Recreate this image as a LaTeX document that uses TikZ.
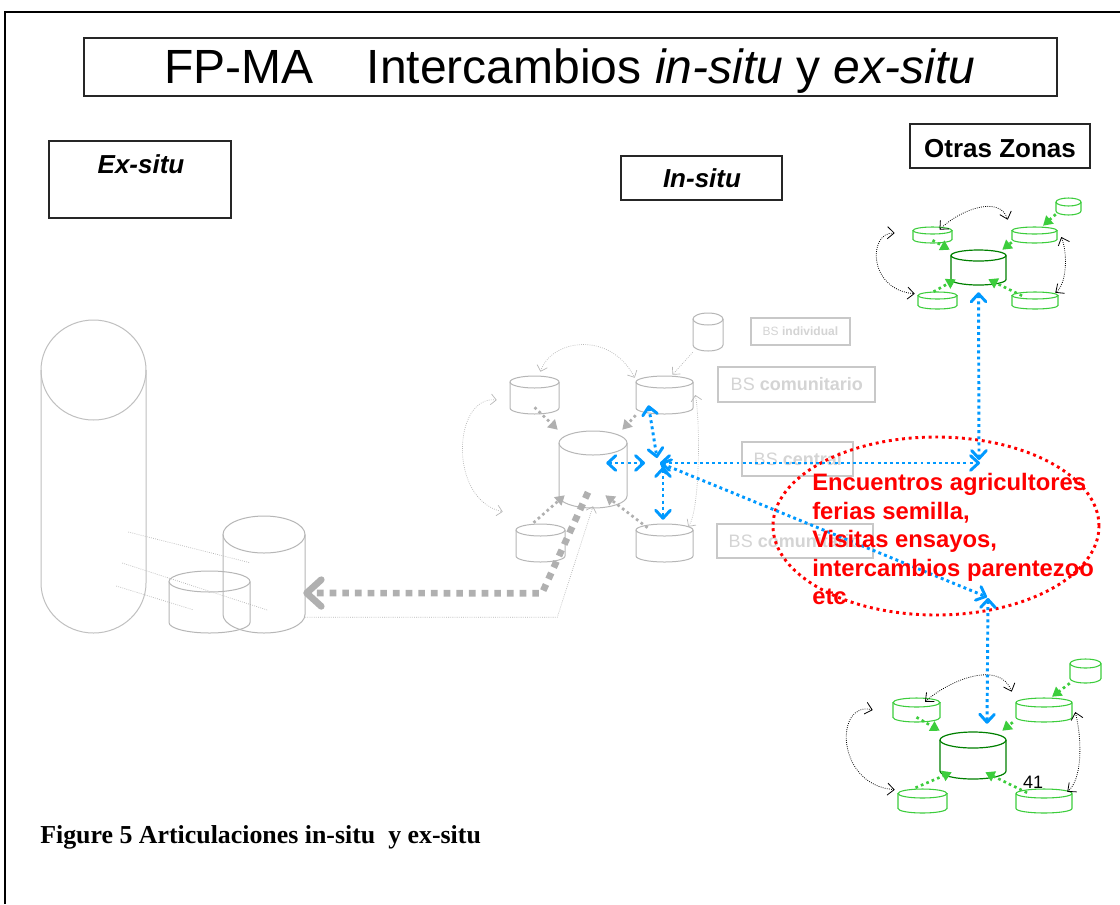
\documentclass[tikz,border=0pt]{standalone}
\usepackage{fontspec}
\setmainfont{Liberation Sans}
\newfontfamily\serifbf{Liberation Serif}
\usetikzlibrary{arrows.meta,calc,fit,shapes.geometric}
\definecolor{cylgray}{RGB}{182,182,182}
\definecolor{tallgray}{RGB}{192,192,192}
\definecolor{boxgray}{RGB}{200,200,200}
\definecolor{txtgray}{RGB}{212,212,212}
\definecolor{arrgray}{RGB}{176,176,176}
\definecolor{myblue}{RGB}{0,153,255}
\definecolor{lgreen}{RGB}{60,205,60}
\definecolor{dgreen}{RGB}{0,128,0}

% cylinder: [style]{name}{x1}{y1}{x2}{y2}{ellipse y-radius}
\newcommand\cyl[7][]{%
  \node[fit={(#3,#4)(#5,#6)},inner sep=0pt] (#2) {};
  \pgfmathsetmacro\cylcx{(#3+#5)/2}%
  \pgfmathsetmacro\cylrx{(#5-#3)/2}%
  \draw[#1] (\cylcx,#4+#7) ellipse[x radius=\cylrx,y radius=#7];
  \draw[#1] (#3,#4+#7) -- (#3,#6-#7) arc[start angle=180,end angle=0,x radius=\cylrx,y radius=#7] -- (#5,#4+#7);
}

\tikzset{
  outerframe/.style={line width=1.5pt,draw=black},
  tbox/.style={draw=black!85,line width=0.8pt,inner sep=0pt},
  bsbox/.style={draw=boxgray,line width=0.8pt,inner sep=0pt},
  bstext/.style={text=txtgray,inner sep=0pt,anchor=west},
  gcyl/.style={draw=cylgray,line width=0.75pt},
  tallcyl/.style={draw=tallgray,line width=0.75pt},
  grcyl/.style={draw=lgreen,line width=0.8pt},
  dgcyl/.style={draw=dgreen,line width=0.9pt},
  bluearr/.style={draw=myblue,line width=2.2pt,dash pattern=on 2.2pt off 2.4pt,
    {Straight Barb[length=6pt,width=11pt,round]}-{Straight Barb[length=6pt,width=11pt,round]}},
  graydot/.style={draw=arrgray,line width=2pt,dash pattern=on 2pt off 2.4pt,
    -{Triangle[length=7pt,width=8pt]}},
  greendot/.style={draw=lgreen,line width=2pt,dash pattern=on 2pt off 2.4pt,
    -{Triangle[length=7pt,width=8pt]}},
  thindot/.style={draw=cylgray,line width=0.5pt,dash pattern=on 0.6pt off 1pt},
  thingray/.style={thindot,{Straight Barb[length=4pt,width=8pt]}-{Straight Barb[length=4pt,width=8pt]}},
  thingrayone/.style={thindot,-{Straight Barb[length=4pt,width=8pt]}},
  thinblack/.style={draw=black,line width=0.6pt,dash pattern=on 0.6pt off 1pt,
    {Straight Barb[length=5pt,width=9pt]}-{Straight Barb[length=5pt,width=9pt]}},
  bigarrow/.style={draw=arrgray,line width=5pt,dash pattern=on 5pt off 4.5pt,
    -{Straight Barb[length=11pt,width=20pt,round]}},
  redell/.style={ellipse,draw=red,line width=2.2pt,dash pattern=on 2.2pt off 2.8pt,
    minimum width=244.5pt,minimum height=133.5pt,inner sep=0pt},
}

\begin{document}
\begin{tikzpicture}[x=0.75pt,y=-0.75pt]
\useasboundingbox (0,0) rectangle (1120,904);
\fill[white] (0,0) rectangle (1120,904);

% outer frame
\coordinate (fbl) at (5,904);
\coordinate (ftl) at (5,12);
\coordinate (ftr) at (1120,12);
\draw[outerframe] (fbl) -- (ftl) -- (ftr);

% title and heading boxes
\node[tbox,fit={(84,38)(1057,96)}] (titlebox) {};
\node[anchor=base west,inner sep=0pt,font=\fontsize{36}{43}\selectfont] (titletext) at (164,83.5)
  {FP-MA\hspace{40pt}Intercambios \textit{in-situ} y \textit{ex-situ}};
\node[tbox,fit={(49,141)(231,218)}] (exbox) {};
\node[anchor=base,inner sep=0pt,font=\bfseries\itshape\fontsize{19.5}{23}\selectfont] (extext) at (141,173) {Ex-situ};
\node[tbox,fit={(621,156)(782,200)}] (inbox) {};
\node[anchor=base,inner sep=0pt,font=\bfseries\itshape\fontsize{19.5}{23}\selectfont] (intext) at (702,187) {In-situ};
\node[tbox,fit={(910,124)(1090,168)}] (otbox) {};
\node[anchor=base,inner sep=0pt,font=\bfseries\fontsize{19.5}{23}\selectfont] (ottext) at (1000,157) {Otras Zonas};

% BS label boxes
\node[bsbox,fit={(751,318)(850,345)}] (bs1) {};
\node[bstext,font=\fontsize{9}{11}\selectfont] (bs1t) at ($(bs1.west)+(12,0)$) {BS \textbf{individual}};
\node[bsbox,fit={(718,367)(875,402)}] (bs2) {};
\node[bstext,font=\fontsize{13.5}{16}\selectfont] (bs2t) at ($(bs2.west)+(13,0)$) {BS \textbf{comunitario}};
\node[bsbox,fit={(742,442)(853,476)}] (bs3) {};
\node[bstext,font=\fontsize{13.5}{16}\selectfont] (bs3t) at ($(bs3.west)+(12,0)$) {BS \textbf{central}};
\node[bsbox,fit={(717,524)(873,558)}] (bs4) {};
\node[bstext,font=\fontsize{13.5}{16}\selectfont] (bs4t) at ($(bs4.west)+(12,0)$) {BS \textbf{comunitario}};

% ex-situ cylinders
\cyl[tallcyl]{T}{41}{320}{146}{633}{50}
\cyl[gcyl]{E2}{223}{516}{305}{633}{18.5}
\cyl[gcyl]{E1}{169}{571}{250}{633}{10.5}
\draw[thindot] ($(T.east)+(-18,55.5)$) -- ($(E1.north)+(40.5,-8)$);
\draw[thindot] ($(T.east)+(-24,86.5)$) -- ($(E2.east)+(-38,35.5)$);
\draw[thindot] ($(T.east)+(-30,109.5)$) -- ($(E1.north)+(-16.5,39)$);

% in-situ gray cluster
\cyl[gcyl]{gS}{693}{313}{723}{351}{6}
\cyl[gcyl]{gL}{510}{376}{559}{414}{6}
\cyl[gcyl]{gR}{636}{376}{693}{414}{6}
\cyl[gcyl]{gC}{559}{431}{627}{508}{12}
\cyl[gcyl]{gBL}{516}{524}{565}{562}{6}
\cyl[gcyl]{gBR}{636}{524}{693}{562}{6}

\draw[thingrayone] ($(gS.south west)+(0,1)$) -- ($(gR.north)+(8,-1)$);
\draw[thingray] ($(gL.north)+(6,-4)$) .. controls +(10,-32) and +(-25,-48) .. ($(gR.north west)+(-1,2)$);
\draw[thingray] ($(gL.west)+(-13,5)$) .. controls +(-44,-5) and +(-55,-12) .. ($(gBL.north west)+(-13,-12)$);
\draw[thingray] ($(gR.east)+(2,0)$) .. controls +(5,25) and +(12,-17) .. ($(gBR.north east)+(-5,3)$);
\draw[thingrayone] ($(E2.south east)+(0,-16)$) -- ++(252,0) -- ($(gC.south)+(0,-2)$);

\draw[graydot] ($(gL.south)+(0,-7)$) -- ($(gC.north west)+(-1,-1)$);
\draw[graydot] ($(gR.south west)+(0,1)$) -- ($(gC.north east)+(-5,-1)$);
\draw[graydot] ($(gBL.north)+(-7,-1)$) -- ($(gC.south west)+(6,-13)$);
\draw[graydot] ($(gBR.north)+(-17,4)$) -- ($(gC.south east)+(-22,-13)$);

\draw[bigarrow] ($(gC.south)+(-5,-16)$) -- ++(-46,101) -- ($(E2.east)+(-2,18.5)$);

% other zones: top cluster
\cyl[grcyl]{tS}{1056}{198}{1081}{215}{4}
\cyl[grcyl]{tLU}{913}{227}{952}{243}{3.5}
\cyl[grcyl]{tRU}{1012}{227}{1057}{243}{3.5}
\cyl[dgcyl]{tC}{951}{250}{1006}{285}{5.5}
\cyl[grcyl]{tBL}{918}{292}{957}{309}{3.5}
\cyl[grcyl]{tBR}{1012}{292}{1058}{309}{3.5}

\draw[greendot] ($(tS.south west)+(0,-1)$) -- ($(tRU.north)+(8.5,-1)$);
\draw[greendot] ($(tLU.south)+(0,-3)$) -- ($(tC.north west)+(-1,0)$);
\draw[greendot] ($(tRU.south west)+(0,-1)$) -- ($(tC.north east)+(-4,0)$);
\draw[greendot] ($(tBL.north)+(-4,0)$) -- ($(tC.south west)+(5,-6)$);
\draw[greendot] ($(tBR.north)+(-13,4)$) -- ($(tC.south east)+(-18,-6)$);

\draw[thinblack] ($(tLU.north)+(7,3)$) .. controls +(20,-20) and +(-8,-25) .. ($(tRU.north west)+(-4,-7)$);
\draw[thinblack] ($(tLU.west)+(-18,-2)$) .. controls +(-27,-1) and +(-47,-4) .. ($(tBL.north west)+(-3,2)$);
\draw[thinblack] ($(tRU.east)+(4,2)$) .. controls +(7,18) and +(11,-8) .. ($(tBR.north east)+(-3,1)$);

% other zones: bottom cluster
\cyl[grcyl]{bS}{1070}{659}{1101}{683}{4.5}
\cyl[grcyl]{bLU}{893}{698}{940}{722}{4.5}
\cyl[grcyl]{bRU}{1016}{698}{1072}{722}{4.5}
\cyl[dgcyl]{bC}{940}{732}{1006}{779}{8}
\cyl[grcyl]{bBL}{898}{789}{947}{813}{4.5}
\cyl[grcyl]{bBR}{1016}{789}{1072}{813}{4.5}

\draw[greendot] (bS.south west) -- ($(bRU.north)+(8,-1)$);
\draw[greendot] ($(bLU.south)+(0,-5)$) -- ($(bC.north west)+(0,-1)$);
\draw[greendot] ($(bRU.south west)+(-3,0)$) -- ($(bC.north east)+(-4,-1)$);
\draw[greendot] ($(bBL.north)+(-7,-1)$) -- ($(bC.south west)+(12,-7)$);
\draw[greendot] ($(bBR.north)+(-17,4)$) -- ($(bC.south east)+(-21,-7)$);

\draw[thinblack] ($(bLU.north)+(8.5,4)$) .. controls +(25,-22) and +(-12,-32) .. ($(bRU.north west)+(-4,-6)$);
\draw[thinblack] ($(bLU.west)+(-20,0)$) .. controls +(-38,-10) and +(-60,-5) .. ($(bBL.north west)+(-3,1)$);
\draw[thinblack] ($(bRU.east)+(3,2)$) .. controls +(7,28) and +(15,-12) .. ($(bBR.north east)+(-5,3)$);

\node[inner sep=0pt,font=\fontsize{13.5}{16}\selectfont] (n41) at (1033,782) {41};

% exchange ellipse and blue links
\node[redell] (ell) at (936,526) {};
\coordinate (hub) at (660,463);
\draw[bluearr] ($(gR.south)+(-16,-9)$) -- ($(hub)+(-3,-5)$);
\draw[bluearr] ($(gC.east)+(-21,-6.5)$) -- ($(hub)+(-15,0)$);
\draw[bluearr] ($(hub)+(3,4)$) -- ($(gBR.north)+(-1.5,-4)$);
\draw[bluearr] (hub) -- ($(ell.center)+(44,-63)$);
\draw[bluearr] (hub) -- ($(ell.center)+(51,71)$);
\draw[bluearr] ($(tC.south)+(0,7)$) -- ($(ell.center)+(43,-66)$);
\draw[bluearr] ($(ell.center)+(52,72)$) -- ($(bC.north)+(14,-8)$);

\node[anchor=north west,align=left,inner sep=0pt,text=red,
  font=\bfseries\fontsize{17.85}{21.4}\selectfont] (redtext) at (812,473)
  {Encuentros agricultores\\ferias semilla,\\Visitas ensayos,\\intercambios parentezoo\\etc};

% caption
\node[anchor=base west,inner sep=0pt,font=\serifbf\bfseries\fontsize{19.4}{23}\selectfont] (caption) at (40,843)
  {Figure 5 Articulaciones in-situ\ \ y ex-situ};
\end{tikzpicture}
\end{document}
